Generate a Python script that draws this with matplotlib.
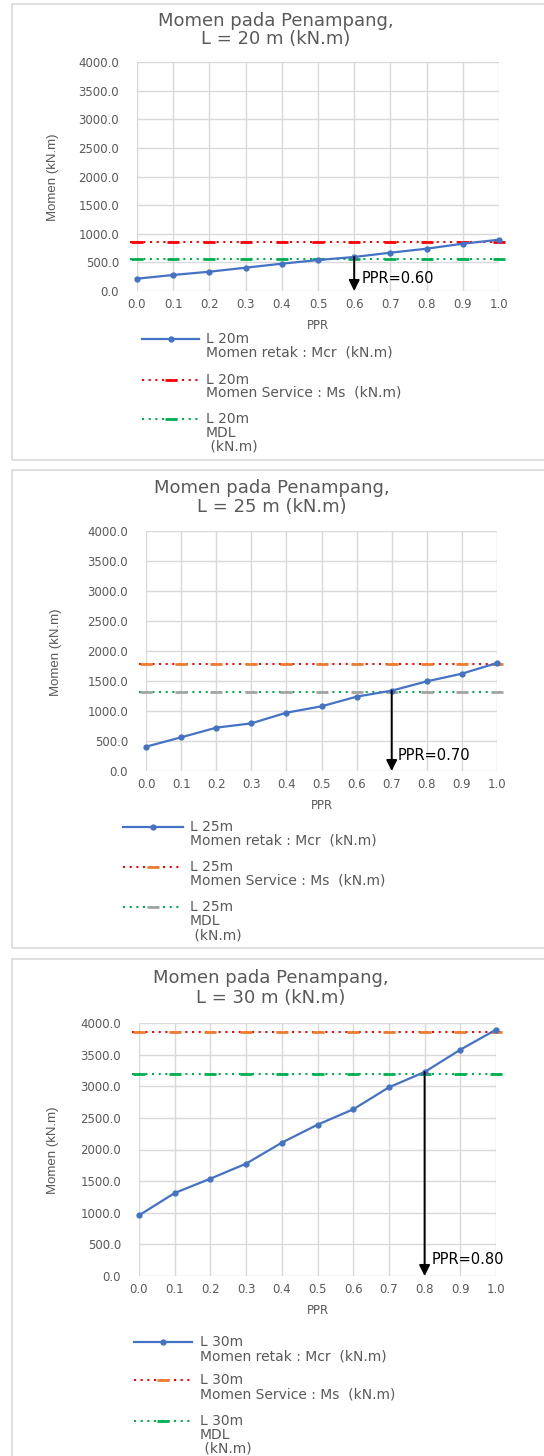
import matplotlib
matplotlib.use("Agg")
import matplotlib.pyplot as plt
from matplotlib.lines import Line2D
from matplotlib.patches import Rectangle
import numpy as np

# data momen per bentang
ppr = [0.0, 0.1, 0.2, 0.3, 0.4, 0.5, 0.6, 0.7, 0.8, 0.9, 1.0]
ppr_ticks = ["0.0", "0.1", "0.2", "0.3", "0.4", "0.5", "0.6", "0.7", "0.8", "0.9", "1.0"]
y_ticks = [0, 500, 1000, 1500, 2000, 2500, 3000, 3500, 4000]

bentang = ["20", "25", "30"]
mcr_20 = [215, 280, 337, 407, 477, 541, 594, 669, 739, 826, 896]
mcr_25 = [405, 561, 722, 794, 972, 1078, 1239, 1339, 1494, 1622, 1800]
mcr_30 = [959, 1312, 1539, 1776, 2108, 2392, 2635, 2983, 3225, 3578, 3894]
ms = [860, 1785, 3863]
mdl = [564, 1311, 3194]
ppr_batas = [0.60, 0.70, 0.80]
mcr_all = [mcr_20, mcr_25, mcr_30]

W, H = 544, 1456
ABU = "#595959"
GRID = "#d9d9d9"
BIRU = "#4472C4"

def fx(p):
    return p / W

def fy(p):
    return 1 - p / H

# posisi tiap panel (pixel)
panel = [
    dict(frame=(12, 4, 460), ax=(137, 499, 62, 291), title=(276, 21, 39), ylab=(53, 177),
         txt=(0.62, 210), leg=(142, 199, 206, [339, 352, 380, 392, 419, 433, 446]),
         ms_mk="#FF0000", mdl_mk="#00B050"),
    dict(frame=(12, 470, 948), ax=(146, 497, 531, 771), title=(272, 488, 507), ylab=(56, 652),
         txt=(0.718, 250), leg=(123, 183, 190, [827, 841, 867, 881, 907, 921, 935]),
         ms_mk="#ED7D31", mdl_mk="#A5A5A5"),
    dict(frame=(12, 959, 1500), ax=(139, 496, 1023, 1276), title=(271, 978, 998), ylab=(53, 1150),
         txt=(0.82, 253), leg=(134, 192, 200, [1342, 1356, 1380, 1395, 1421, 1435, 1449]),
         ms_mk="#ED7D31", mdl_mk="#00B050"),
]

fig = plt.figure(figsize=(W / 100, H / 100), dpi=100)
fig.patch.set_facecolor("white")

titik = (0, (1, 2.2))

for i, p in enumerate(panel):
    fl, ft, fb = p["frame"]
    fig.add_artist(Rectangle((fx(fl), fy(fb)), 700 / W, (fb - ft) / H,
                             transform=fig.transFigure, fill=False, ec=GRID, lw=1.2))

    l, r, t, b = p["ax"]
    ax = fig.add_axes([fx(l), fy(b), (r - l) / W, (b - t) / H])
    ax.set_xlim(0, 1)
    ax.set_ylim(0, 4000)
    ax.set_xticks(ppr)
    ax.set_xticklabels(ppr_ticks)
    ax.set_yticks(y_ticks)
    ax.set_yticklabels([f"{v:.1f}" for v in y_ticks])
    ax.grid(True, color=GRID, lw=1)
    ax.set_axisbelow(True)
    for s in ax.spines.values():
        s.set_visible(False)
    ax.tick_params(length=0, labelsize=8.5, colors=ABU)
    ax.tick_params(axis="y", pad=13)
    ax.tick_params(axis="x", pad=5)
    ax.set_xlabel("PPR", fontsize=8.5, color=ABU, labelpad=6)

    mcr = mcr_all[i]
    # garis horizontal Ms dan MDL
    ax.plot([-0.02, 1.015], [ms[i], ms[i]], color="#FF0000", lw=1.5, ls=titik, clip_on=False)
    ax.plot(ppr, [ms[i]] * len(ppr), ls="none", marker="_", ms=8, mew=2, color=p["ms_mk"], clip_on=False)
    ax.plot([-0.02, 1.015], [mdl[i], mdl[i]], color="#00B050", lw=1.5, ls=titik, clip_on=False)
    ax.plot(ppr, [mdl[i]] * len(ppr), ls="none", marker="_", ms=8, mew=2, color=p["mdl_mk"], clip_on=False)
    ax.plot(ppr, mcr, color=BIRU, lw=1.6, marker="o", ms=3.5, clip_on=False)

    # panah PPR batas
    y0 = np.interp(ppr_batas[i], ppr, mcr)
    ax.annotate("", xy=(ppr_batas[i], 0), xytext=(ppr_batas[i], y0),
                arrowprops=dict(arrowstyle="-|>", color="black", lw=1.4, mutation_scale=16,
                                shrinkA=0, shrinkB=0), annotation_clip=False)
    tx, ty = p["txt"]
    ax.text(tx, ty, f"PPR={ppr_batas[i]:.2f}", fontsize=10.5, color="black", va="center", ha="left",
            clip_on=False)

    xc, y1, y2 = p["title"]
    fig.text(fx(xc), fy(y1), "Momen pada Penampang,", fontsize=13, color=ABU, ha="center", va="center")
    fig.text(fx(xc), fy(y2), f"L = {bentang[i]} m (kN.m)", fontsize=13, color=ABU, ha="center", va="center")

    yx, yy = p["ylab"]
    fig.text(fx(yx), fy(yy), "Momen (kN.m)", rotation=90, fontsize=9.5, color=ABU, ha="center", va="center",
             family=["Liberation Sans", "DejaVu Sans"])

    # legenda
    x0, x1, xt, ys = p["leg"]
    nama = f"L {bentang[i]}m"
    baris = [nama, "Momen retak : Mcr  (kN.m)", nama, "Momen Service : Ms  (kN.m)", nama, "MDL", " (kN.m)"]
    for k, teks in enumerate(baris):
        fig.text(fx(xt), fy(ys[k]), teks, fontsize=10, color=ABU, ha="left", va="center")
    gaya = [
        (ys[0], dict(color=BIRU, lw=1.6, ls="-"), dict(color=BIRU, marker="o", ms=3.5)),
        (ys[2], dict(color="#FF0000", lw=1.5, ls=titik), dict(color=p["ms_mk"], marker="_", ms=8, mew=2)),
        (ys[4], dict(color="#00B050", lw=1.5, ls=titik), dict(color=p["mdl_mk"], marker="_", ms=8, mew=2)),
    ]
    for yl, garis, tanda in gaya:
        fig.add_artist(Line2D([fx(x0), fx(x1)], [fy(yl), fy(yl)], transform=fig.transFigure, **garis))
        fig.add_artist(Line2D([fx((x0 + x1) / 2)], [fy(yl)], transform=fig.transFigure, ls="none", **tanda))

fig.savefig("out.png", dpi=100, facecolor="white")
